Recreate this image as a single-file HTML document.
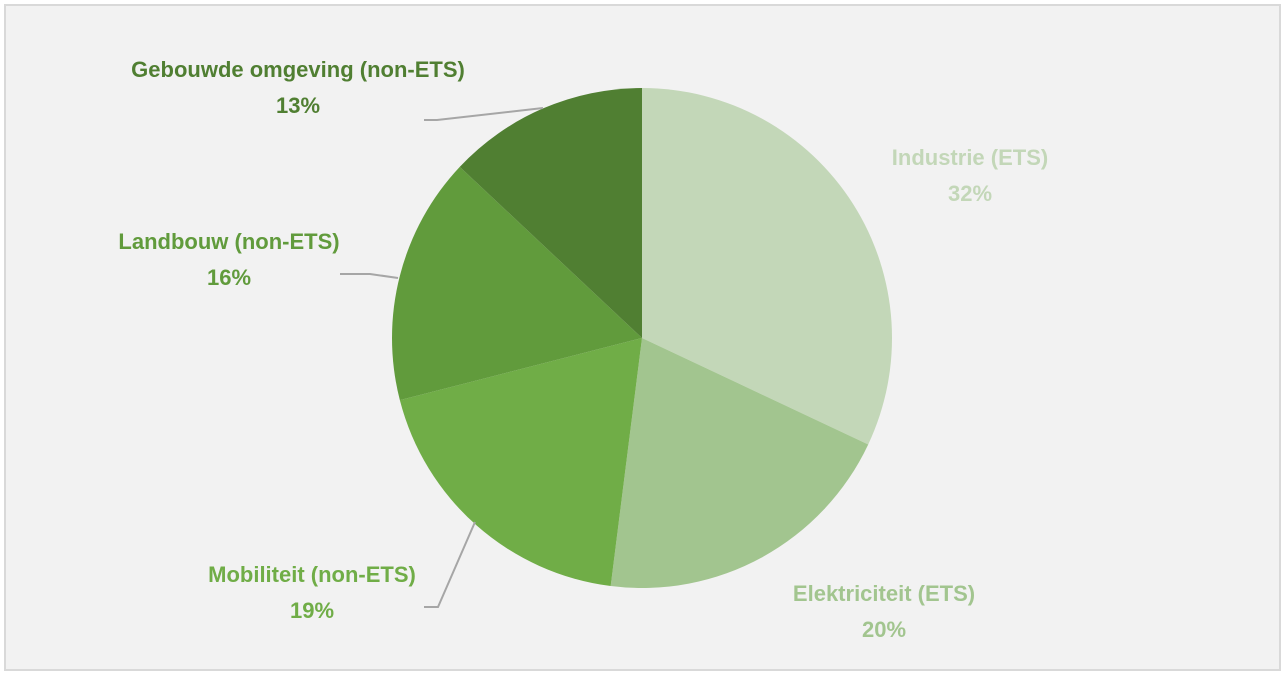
<!DOCTYPE html>
<html><head><meta charset="utf-8"><style>
html,body{margin:0;padding:0;background:#fff;}
svg{display:block;font-family:"Liberation Sans",sans-serif;}
</style></head><body>
<svg id="chart" width="1285" height="675" viewBox="0 0 1285 675" xmlns="http://www.w3.org/2000/svg">
<rect x="5" y="5" width="1275" height="665" fill="#f2f2f2" stroke="#d9d9d9" stroke-width="2"/>
<g id="slices"></g>
<g id="leaders" fill="none" stroke="#a6a6a6" stroke-width="2">
<polyline points="543,108 437,120 424,120"/>
<polyline points="398,278 370,274 340,274"/>
<polyline points="475,522 438,607 424,607"/>
</g>
<g id="labels" font-weight="bold" font-size="22" text-anchor="middle"></g>
</svg>
<script>
const categories = ["Industrie (ETS)","Elektriciteit (ETS)","Mobiliteit (non-ETS)","Landbouw (non-ETS)","Gebouwde omgeving (non-ETS)"];
const values = [32,20,19,16,13];
const colors = ["#c3d7b8","#a2c58f","#70ad47","#619b3c","#507f32"];
const labelPos = [[970,165],[884,601],[312,582],[229,249],[298,77]];
const cx=642, cy=338, r=250;
const ns="http://www.w3.org/2000/svg";
const total=values.reduce((a,b)=>a+b,0);
let a0=-Math.PI/2;
const sg=document.getElementById('slices'), lg=document.getElementById('labels');
values.forEach((v,i)=>{
  const a1=a0+v/total*2*Math.PI;
  const x0=cx+r*Math.cos(a0), y0=cy+r*Math.sin(a0), x1=cx+r*Math.cos(a1), y1=cy+r*Math.sin(a1);
  const p=document.createElementNS(ns,'path');
  p.setAttribute('d',`M${cx},${cy} L${x0},${y0} A${r},${r} 0 ${a1-a0>Math.PI?1:0} 1 ${x1},${y1} Z`);
  p.setAttribute('fill',colors[i]);
  
  
  sg.appendChild(p);
  const t=document.createElementNS(ns,'text');
  t.setAttribute('x',labelPos[i][0]);t.setAttribute('y',labelPos[i][1]);
  t.setAttribute('fill',colors[i]);
  
  
  t.textContent=categories[i];
  lg.appendChild(t);
  const t2=document.createElementNS(ns,'text');
  t2.setAttribute('x',labelPos[i][0]);t2.setAttribute('y',labelPos[i][1]+36);
  t2.setAttribute('fill',colors[i]);
  
  
  t2.textContent=v+'%';
  lg.appendChild(t2);
  a0=a1;
});
</script>
</body></html>
